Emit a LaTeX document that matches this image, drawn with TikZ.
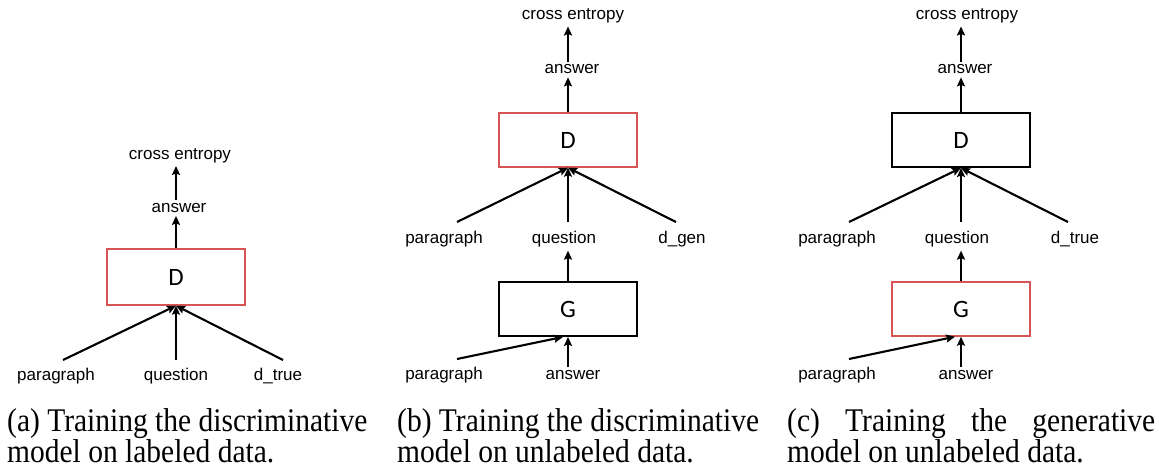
\documentclass[tikz,border=0pt]{standalone}
\usepackage{fontspec}
\setmainfont{Liberation Serif}
\setsansfont{Liberation Sans}
\newfontfamily\boxfont{Carlito}
\usetikzlibrary{arrows.meta}
\definecolor{boxred}{RGB}{214,84,84}
\tikzset{
  lbl/.style={font=\sffamily\fontsize{17}{20}\selectfont, inner sep=3pt},
  model/.style={draw=black, line width=1.9pt, minimum width=138pt, minimum height=54pt,
    inner sep=0pt, font=\boxfont\fontsize{25}{30}\selectfont},
  trained/.style={model, draw=boxred, line width=1.4pt},
  flow/.style={line width=2.1pt, -{Stealth[length=9pt,width=8pt,inset=1.5pt]}},
  captxt/.style={anchor=base west, inner sep=0pt, font=\fontsize{29.5}{34}\selectfont},
}
\newcommand{\capline}[1]{\scalebox{1}[1.12]{#1}}
\begin{document}
\begin{tikzpicture}[x=1pt,y=-1pt]
\useasboundingbox (0,0) rectangle (1159,468);

% ---------- (a) discriminator on labeled data ----------
\node[trained, minimum height=56pt] (Da) at (176,277) {D};
\node[lbl] (ansa) at (179,208) {answer};
\node[lbl] (cea)  at (180,155.5) {cross entropy};
\node[lbl] (para) at (56,376) {paragraph};
\node[lbl] (qa)   at (176,376) {question};
\node[lbl] (dta)  at (278,376) {d\_true};
\coordinate (pa0) at (63,360);
\coordinate (qa0) at (176,360);
\coordinate (da0) at (283,360);
\draw[flow] (Da.north) -- (Da.north |- ansa.south);
\draw[flow] (Da.north |- ansa.north) -- (Da.north |- cea.south);
\draw[flow] (pa0) -- (Da.south);
\draw[flow] (qa0) -- (Da.south);
\draw[flow] (da0) -- (Da.south);

% ---------- (b) discriminator on generated data ----------
\node[trained] (Db) at (568,140) {D};
\node[model]   (Gb) at (568,309) {G};
\node[lbl] (ansb)  at (572,69.5) {answer};
\node[lbl] (ceb)   at (573,16) {cross entropy};
\node[lbl] (parb)  at (444,239.5) {paragraph};
\node[lbl] (qb)    at (564,239.5) {question};
\node[lbl] (dgb)   at (682,239.5) {d\_gen};
\node[lbl] (parbb) at (444,375.5) {paragraph};
\node[lbl] (ansbb) at (573,375) {answer};
\coordinate (pb0) at (457,222);
\coordinate (qb0) at (568,222);
\coordinate (db0) at (676,222);
\coordinate (pbb0) at (457,359);
\draw[flow] (Db.north) -- (Db.north |- ansb.south);
\draw[flow] (Db.north |- ansb.north) -- (Db.north |- ceb.south);
\draw[flow] (pb0) -- (Db.south);
\draw[flow] (qb0) -- (Db.south);
\draw[flow] (db0) -- (Db.south);
\draw[flow] (Gb.north) -- (Gb.north |- qb.south);
\draw[flow] (pbb0) -- ([xshift=-5pt]Gb.south);
\draw[flow] (Gb.south |- ansbb.north) -- (Gb.south);

% ---------- (c) generator on unlabeled data ----------
\node[model]   (Dc) at (961,140) {D};
\node[trained] (Gc) at (961,309) {G};
\node[lbl] (ansc)  at (965,69.5) {answer};
\node[lbl] (cec)   at (967,16) {cross entropy};
\node[lbl] (parc)  at (837,239.5) {paragraph};
\node[lbl] (qc)    at (957,239.5) {question};
\node[lbl] (dtc)   at (1075,239.5) {d\_true};
\node[lbl] (parcc) at (837,375.5) {paragraph};
\node[lbl] (anscc) at (966,375) {answer};
\coordinate (pc0) at (849,222);
\coordinate (qc0) at (961,222);
\coordinate (dc0) at (1068,222);
\coordinate (pcc0) at (849,359);
\draw[flow] (Dc.north) -- (Dc.north |- ansc.south);
\draw[flow] (Dc.north |- ansc.north) -- (Dc.north |- cec.south);
\draw[flow] (pc0) -- (Dc.south);
\draw[flow] (qc0) -- (Dc.south);
\draw[flow] (dc0) -- (Dc.south);
\draw[flow] (Gc.north) -- (Gc.north |- qc.south);
\draw[flow] (pcc0) -- ([xshift=-6pt]Gc.south);
\draw[flow] (Gc.south |- anscc.north) -- (Gc.south);

% ---------- sub-captions ----------
\node[captxt] (capa1) at (7,431)   {\capline{(a) Training the discriminative}};
\node[captxt] (capa2) at (7,462)   {\capline{model on labeled data.}};
\node[captxt] (capb1) at (397,431) {\capline{(b) Training the discriminative}};
\node[captxt] (capb2) at (397,462) {\capline{model on unlabeled data.}};
\node[captxt] (capc1) at (787,431) {\capline{\hbox to 368pt{(c)\hfill Training\hfill the\hfill generative}}};
\node[captxt] (capc2) at (787,462) {\capline{model on unlabeled data.}};
\end{tikzpicture}
\end{document}
